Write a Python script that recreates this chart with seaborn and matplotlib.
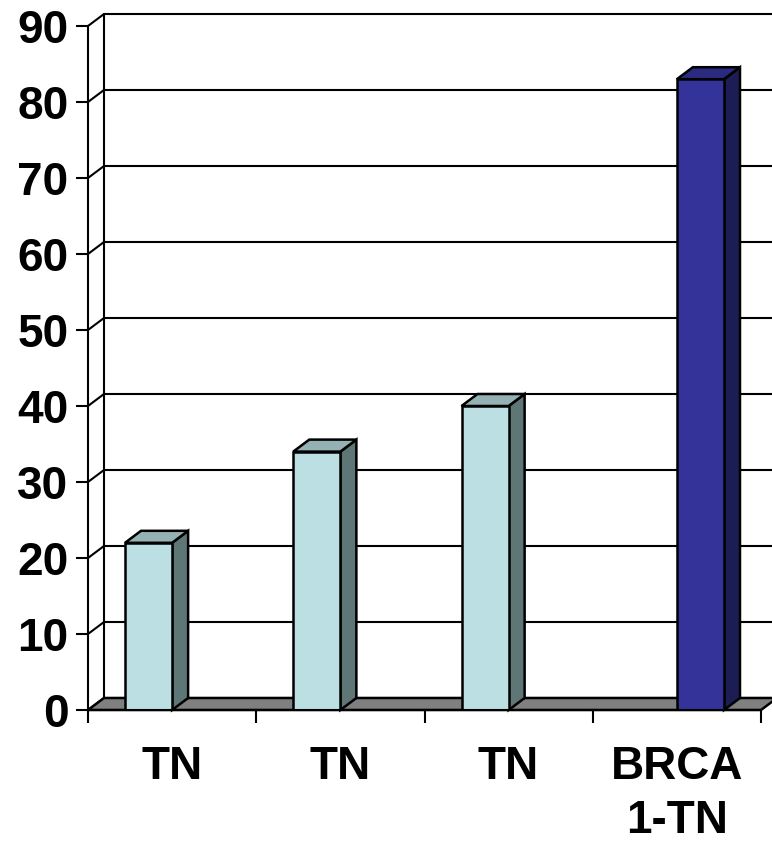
import matplotlib
matplotlib.use("Agg")
import matplotlib.pyplot as plt
from matplotlib.patches import Polygon
import seaborn as sns
import pandas as pd

# ---- data ----
category_labels = ["TN", "TN", "TN", "BRCA\n1-TN"]
category_ids = [0, 1, 2, 3]
values = [22, 34, 40, 83]
series = ["TN", "TN", "TN", "BRCA1-TN"]
series_order = ["TN", "BRCA1-TN"]
y_ticks = [0, 10, 20, 30, 40, 50, 60, 70, 80, 90]

front_colors = {"TN": "#BBDFE3", "BRCA1-TN": "#333399"}
side_colors = {"TN": "#5F7676", "BRCA1-TN": "#1D1D55"}
top_colors = {"TN": "#94B1B4", "BRCA1-TN": "#2A2A80"}

sns.set_style("white")
plt.rcParams["font.family"] = ["Liberation Sans", "DejaVu Sans"]
plt.rcParams["font.weight"] = "bold"
plt.rcParams["text.color"] = "black"
plt.rcParams["xtick.color"] = "black"
plt.rcParams["ytick.color"] = "black"
plt.rcParams["xtick.labelcolor"] = "black"
plt.rcParams["ytick.labelcolor"] = "black"

df = pd.DataFrame({"cat": category_ids, "value": values, "series": series})

fig = plt.figure(figsize=(7.72, 8.44), dpi=100)
W, H = 772, 844
x0, x1, yb, yt = 88, 761, 710, 26
ax = fig.add_axes([x0 / W, 1 - yb / H, (x1 - x0) / W, (yb - yt) / H])

sns.barplot(data=df, x="cat", y="value", hue="series", hue_order=series_order,
            palette=front_colors, dodge=True, width=0.56, gap=0,
            edgecolor="black", linewidth=1.8, saturation=1, legend=False,
            ax=ax, zorder=3)

ax.set_xlim(-0.5, 3.5)
ax.set_ylim(0, 90)

# depth offset in data units (about 16 px right, 12 px up)
px_x = (x1 - x0) / 4.0
px_y = (yb - yt) / 90.0
dx = 16 / px_x
dy = 12 / px_y
xl, xr = -0.5, 3.5

# back wall gridlines and left wall
for t in y_ticks:
    ax.plot([xl + dx, xr + dx], [t + dy, t + dy], color="black", lw=1.5,
            clip_on=False, zorder=0)
    ax.plot([xl, xl + dx], [t, t + dy], color="black", lw=1.5,
            clip_on=False, zorder=0)
ax.plot([xl + dx, xl + dx], [dy, 90 + dy], color="black", lw=1.5,
        clip_on=False, zorder=0)

# floor
floor = Polygon([(xl, 0), (xr, 0), (xr + dx, dy), (xl + dx, dy)],
                closed=True, facecolor="#808080", edgecolor="black",
                lw=1.8, clip_on=False, zorder=1)
ax.add_patch(floor)

# 3D sides and tops for each bar
for p in list(ax.patches):
    if p is floor:
        continue
    h = p.get_height()
    if not h or h != h:
        continue
    bx = p.get_x()
    bw = p.get_width()
    fc = p.get_facecolor()
    key = "BRCA1-TN" if fc[2] > 0.5 and fc[0] < 0.4 else "TN"
    side = Polygon([(bx + bw, 0), (bx + bw + dx, dy), (bx + bw + dx, h + dy),
                    (bx + bw, h)], closed=True, facecolor=side_colors[key],
                   edgecolor="black", lw=1.8, clip_on=False, zorder=2.5)
    top = Polygon([(bx, h), (bx + bw, h), (bx + bw + dx, h + dy),
                   (bx + dx, h + dy)], closed=True, facecolor=top_colors[key],
                  edgecolor="black", lw=1.8, clip_on=False, zorder=2.5)
    ax.add_patch(side)
    ax.add_patch(top)

# spines
for s in ["top", "right"]:
    ax.spines[s].set_visible(False)
for s in ["left", "bottom"]:
    ax.spines[s].set_color("black")
    ax.spines[s].set_linewidth(1.5)
    ax.spines[s].set_zorder(4)

ax.set_yticks(y_ticks)
ax.set_yticklabels([str(t) for t in y_ticks], fontsize=33, fontweight="bold",
                   color="black")
ax.tick_params(axis="y", direction="out", length=9, width=1.5, pad=5,
               left=True, color="black")

ax.set_xticks(category_ids)
ax.set_xticklabels(category_labels, fontsize=33, fontweight="bold",
                   linespacing=1.3, color="black")
ax.set_xticks([-0.5, 0.5, 1.5, 2.5, 3.5], minor=True)
ax.tick_params(axis="x", which="major", length=0, pad=25)
ax.tick_params(axis="x", which="minor", direction="out", length=9, width=1.5,
               bottom=True, color="black")
ax.set_xlabel("")
ax.set_ylabel("")
ax.grid(False)

fig.savefig("out.png", dpi=100)
